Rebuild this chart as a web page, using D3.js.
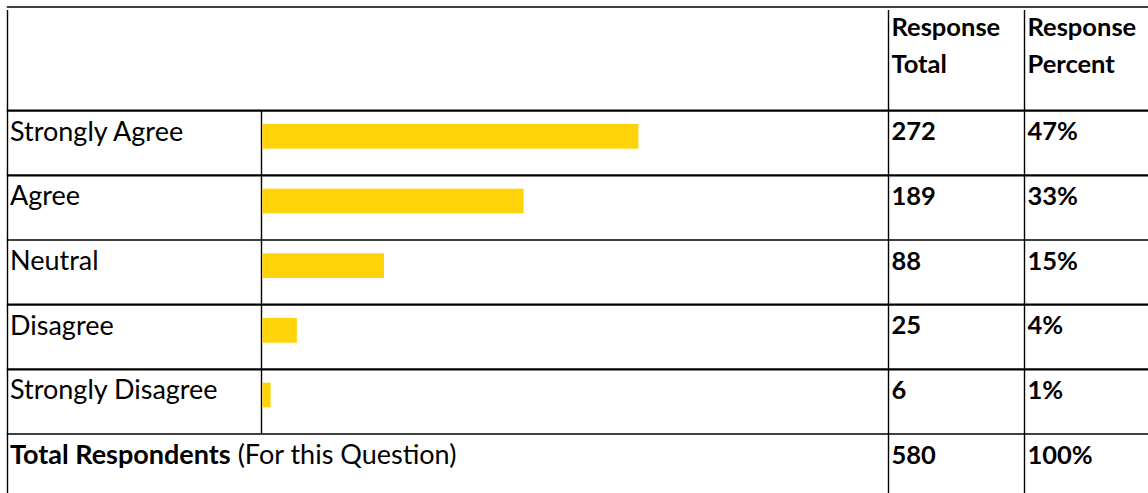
<!DOCTYPE html>
<html>
<head>
<meta charset="utf-8">
<script src="https://cdnjs.cloudflare.com/ajax/libs/d3/7.8.5/d3.min.js"></script>
<style>
  body { margin: 0; background: #fff; }
  svg { display: block; }
  .txt { font-family: Lato, "Open Sans", sans-serif; fill: #000; }
</style>
</head>
<body>
<svg width="1148" height="493"></svg>
<script>
var categories = ["Strongly Agree", "Agree", "Neutral", "Disagree", "Strongly Disagree"];
var responseTotals = [272, 189, 88, 25, 6];
var responsePercents = [47, 33, 15, 4, 1];
var totalRespondents = 580;
var totalPercent = 100;
var headers = [["Response", "Total"], ["Response", "Percent"]];

var svg = d3.select("svg"),
    width = +svg.attr("width"),
    height = +svg.attr("height");

// table geometry
var tableTop = 7, headerBottom = 110.7, rowH = 64.66,
    leftX = 7.5, barColX = 261.5, totalColX = 888.5, pctColX = 1024.5;

var rowY = d3.scaleBand()
    .domain(d3.range(categories.length + 1))
    .range([headerBottom, headerBottom + rowH * (categories.length + 1)]);

var x = d3.scaleLinear()
    .domain([0, totalRespondents])
    .range([barColX + 0.8, barColX + 0.8 + 802]);

var lines = svg.append("g").attr("stroke", "#000");

// horizontal rules
var hy = [tableTop, headerBottom].concat(d3.range(1, categories.length + 1).map(function(i) { return rowY(i - 1) + rowY.bandwidth(); }));
var hw = [1.6, 2.2, 2.2, 1.4, 2.2, 2.2, 1.5];
lines.selectAll("line.h")
  .data(hy)
  .enter().append("line")
    .attr("class", "h")
    .attr("x1", leftX - 0.7).attr("x2", width)
    .attr("y1", function(d) { return d; }).attr("y2", function(d) { return d; })
    .attr("stroke-width", function(d, i) { return hw[i]; });

// vertical rules
lines.append("line").attr("x1", leftX).attr("x2", leftX).attr("y1", tableTop + 3).attr("y2", height).attr("stroke-width", 1.4);
lines.append("line").attr("x1", barColX).attr("x2", barColX).attr("y1", headerBottom).attr("y2", rowY(categories.length)).attr("stroke-width", 1.4);
[totalColX, pctColX].forEach(function(cx) {
  lines.append("line").attr("x1", cx).attr("x2", cx).attr("y1", tableTop + 3).attr("y2", height).attr("stroke-width", 1.4);
});

// header
headers.forEach(function(h, j) {
  var cx = (j == 0 ? totalColX : pctColX) + 3;
  var t = svg.append("text").attr("class", "txt")
      .attr("x", cx)
      .attr("y", 36)
      .style("font-weight", "bold")
      .style("font-size", "25.5px");
  t.append("tspan").text(h[0]);
  t.append("tspan").attr("x", cx).attr("dy", 37).text(h[1]);
});

// bars
svg.selectAll("rect.bar")
  .data(responseTotals)
  .enter().append("rect")
    .attr("class", "bar")
    .attr("x", x(0))
    .attr("y", function(d, i) { return rowY(i) + 13.3; })
    .attr("width", function(d) { return x(d) - x(0); })
    .attr("height", 24.7)
    .attr("fill", "#FED309");

// row labels
svg.selectAll("text.label")
  .data(categories)
  .enter().append("text")
    .attr("class", "txt label")
    .attr("x", 10)
    .attr("y", function(d, i) { return rowY(i) + 30; })
    .style("font-size", "27px")
    .text(function(d) { return d; });

svg.selectAll("text.total")
  .data(responseTotals.concat([totalRespondents]))
  .enter().append("text")
    .attr("class", "txt total")
    .attr("x", totalColX + 3)
    .attr("y", function(d, i) { return rowY(i) + 29.5; })
    .style("font-weight", "bold")
    .style("font-size", "25.5px")
    .text(function(d) { return d; });

svg.selectAll("text.pct")
  .data(responsePercents.concat([totalPercent]))
  .enter().append("text")
    .attr("class", "txt pct")
    .attr("x", pctColX + 3)
    .attr("y", function(d, i) { return rowY(i) + 29.5; })
    .style("font-weight", "bold")
    .style("font-size", "25.5px")
    .text(function(d) { return d + "%"; });

// total row label
var tl = svg.append("text").attr("class", "txt")
    .attr("x", 10)
    .attr("y", rowY(categories.length) + 29.5)
    .style("font-size", "27px");
tl.append("tspan").style("font-weight", "bold").text("Total Respondents");
tl.append("tspan").text(" (For this Question)");
</script>
</body>
</html>
